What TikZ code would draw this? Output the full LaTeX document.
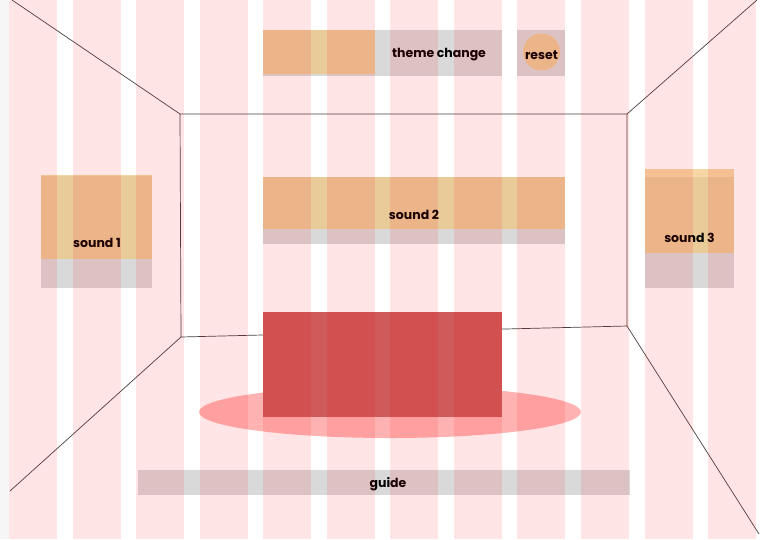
\documentclass[tikz,border=0pt]{standalone}
\usepackage{fontspec}
\usetikzlibrary{shapes.geometric}
\newfontfamily\pop{Poppins}
\definecolor{gbox}{HTML}{D9D9D9}
\definecolor{orng}{HTML}{F2C37C}
\definecolor{redbox}{HTML}{CE5A5A}
\definecolor{ell}{HTML}{FFB2B2}
\definecolor{wall}{HTML}{4A4040}
\definecolor{edge}{HTML}{F6F6F6}
\begin{document}
\begin{tikzpicture}[x=1pt,y=-1pt,
  greybox/.style={fill=gbox,draw=none,inner sep=0pt,anchor=north west},
  orangebox/.style={fill=orng,fill opacity=0.68,draw=none,inner sep=0pt,anchor=north west},
  lbl/.style={font=\pop\bfseries\fontsize{12.5}{14}\selectfont,text=black,inner sep=0pt,yshift=-2pt},
  wallline/.style={draw=wall,line width=0.7pt},
  stripe/.style={fill=red,fill opacity=0.1,draw=none}]
\useasboundingbox (0,0) rectangle (763,539);
\fill[white] (0,0) rectangle (763,539);
\fill[edge] (0,0) rectangle (9,539);
% room walls
\coordinate (tl) at (180,114);
\coordinate (tr) at (627,114);
\coordinate (br) at (627,326);
\coordinate (bl) at (181,337);
\coordinate (ctl) at (12,0);
\coordinate (ctr) at (757,0);
\coordinate (cbl) at (10,491);
\coordinate (cbr) at (759,534);
\draw[wallline] (ctl) -- (tl) -- (tr) -- (ctr);
\draw[wallline] (tl) -- (bl) -- (br) -- (tr);
\draw[wallline] (bl) -- (cbl);
\draw[wallline] (br) -- (cbr);
% floor ellipse
\node[fill=ell,draw=none,ellipse,minimum width=382pt,minimum height=52pt,inner sep=0pt] (rug) at (390,412) {};
% red box
\node[fill=redbox,draw=none,inner sep=0pt,anchor=north west,minimum width=239pt,minimum height=105pt] (sofa) at (263,312) {};
% theme change
\node[greybox,minimum width=239pt,minimum height=46pt] (themebg) at (263,30) {};
\node[orangebox,minimum width=112pt,minimum height=44pt] (themebar) at (263,30) {};
\node[lbl] (themetxt) at (439,53) {theme change};
% reset
\node[greybox,minimum width=48pt,minimum height=46pt] (resetbg) at (517,30) {};
\node[circle,fill=orng,fill opacity=0.68,draw=none,minimum size=37pt,inner sep=0pt] (resetbtn) at (541.5,52) {};
\node[lbl] (resettxt) at (541.5,53) {reset};
% sound 1
\node[greybox,minimum width=111pt,minimum height=112pt] (s1bg) at (41,176) {};
\node[orangebox,minimum width=111pt,minimum height=84pt] (s1) at (41,175) {};
\node[lbl] (s1txt) at (97,241) {sound 1};
% sound 2
\node[greybox,minimum width=302pt,minimum height=67pt] (s2bg) at (263,177) {};
\node[orangebox,minimum width=302pt,minimum height=52pt] (s2) at (263,177) {};
\node[lbl] (s2txt) at (414,213) {sound 2};
% sound 3
\node[greybox,minimum width=89pt,minimum height=111pt] (s3bg) at (645,177) {};
\node[orangebox,minimum width=89pt,minimum height=84pt] (s3) at (645,169) {};
\node[lbl] (s3txt) at (689.5,236) {sound 3};
% guide
\node[greybox,minimum width=492pt,minimum height=25pt] (guidebg) at (138,470) {};
\node[lbl] (guidetxt) at (388,482) {guide};
% grid overlay
\foreach \i in {0,...,11} {
  \fill[stripe] ({9+63.55*\i},0) rectangle ({57+63.55*\i},539);
}
\end{tikzpicture}
\end{document}
